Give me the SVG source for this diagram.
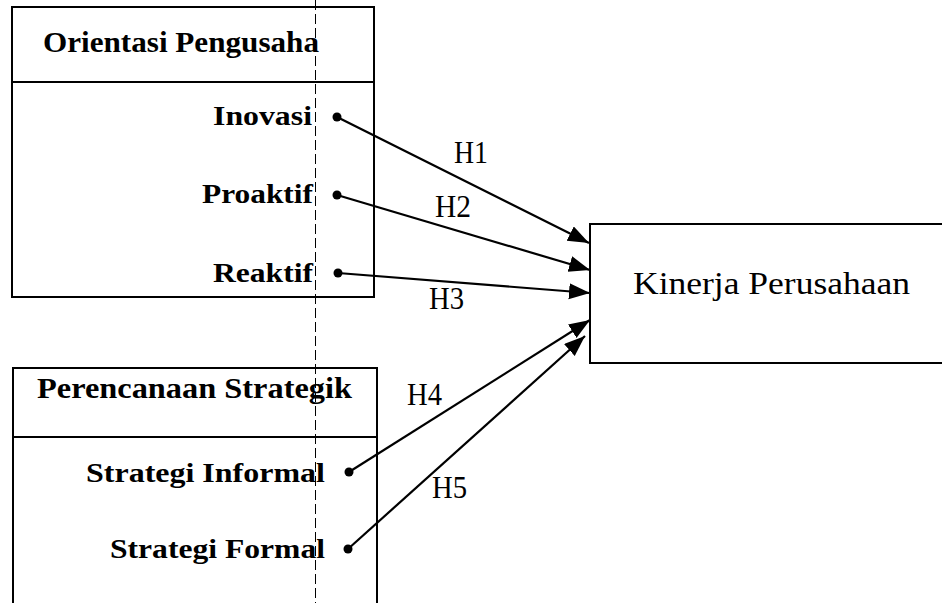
<svg xmlns="http://www.w3.org/2000/svg" width="942" height="603" viewBox="0 0 942 603">
<defs>
<style>
.box{fill:none;stroke:#000;stroke-width:2}
.b{font-family:"Liberation Serif","Times New Roman",serif;font-weight:bold;font-size:28px;fill:#000}
.h{font-family:"Liberation Serif","Times New Roman",serif;font-weight:bold;font-size:29px;fill:#000}
.r{font-family:"Liberation Serif","Times New Roman",serif;font-size:31px;fill:#000}
.c{stroke:#000;stroke-width:2.2;fill:none;marker-end:url(#ah)}
.dot{fill:#000}
</style>
<marker id="ah" markerUnits="userSpaceOnUse" markerWidth="24" markerHeight="20" refX="21" refY="8" orient="auto">
<path d="M0,0 L21,8 L0,16 z" fill="#000"/>
</marker>
</defs>
<rect width="942" height="603" fill="#fff"/>
<line x1="315.5" y1="0" x2="315.5" y2="603" stroke="#000" stroke-width="1" stroke-dasharray="10,4"/>
<g id="orientasi">
<rect class="box" x="12" y="7" width="362" height="290"/>
<line class="box" x1="12" y1="82" x2="374" y2="82"/>
<text class="h" x="43" y="52" textLength="276" lengthAdjust="spacingAndGlyphs">Orientasi Pengusaha</text>
<text class="b" x="213" y="125" textLength="99" lengthAdjust="spacingAndGlyphs">Inovasi</text>
<text class="b" x="202" y="203" textLength="111" lengthAdjust="spacingAndGlyphs">Proaktif</text>
<text class="b" x="213" y="282" textLength="100" lengthAdjust="spacingAndGlyphs">Reaktif</text>
<circle class="dot" cx="337" cy="117" r="4.5"/>
<circle class="dot" cx="337" cy="195" r="4.5"/>
<circle class="dot" cx="338" cy="273" r="4.5"/>
</g>
<g id="perencanaan">
<path class="box" d="M13,603 V368 H377 V603"/>
<line class="box" x1="13" y1="437" x2="377" y2="437"/>
<text class="h" x="37" y="398" textLength="315" lengthAdjust="spacingAndGlyphs">Perencanaan Strategik</text>
<text class="b" x="86" y="482" textLength="239" lengthAdjust="spacingAndGlyphs">Strategi Informal</text>
<text class="b" x="110" y="558" textLength="215" lengthAdjust="spacingAndGlyphs">Strategi Formal</text>
<circle class="dot" cx="349" cy="472" r="4.5"/>
<circle class="dot" cx="348" cy="549" r="4.5"/>
</g>
<g id="kinerja">
<path class="box" d="M945,224 H590 V363 H945"/>
<text class="r" x="633" y="294" textLength="277" lengthAdjust="spacingAndGlyphs">Kinerja Perusahaan</text>
</g>
<g id="connectors">
<line class="c" x1="337" y1="117" x2="589" y2="243"/>
<line class="c" x1="337" y1="195" x2="590" y2="270"/>
<line class="c" x1="338" y1="273" x2="590" y2="293"/>
<line class="c" x1="349" y1="472" x2="590" y2="320"/>
<line class="c" x1="348" y1="549" x2="585" y2="336"/>
<text class="r" x="454" y="163" textLength="34" lengthAdjust="spacingAndGlyphs">H1</text>
<text class="r" x="435" y="217" textLength="36" lengthAdjust="spacingAndGlyphs">H2</text>
<text class="r" x="429" y="309" textLength="35" lengthAdjust="spacingAndGlyphs">H3</text>
<text class="r" x="407" y="405" textLength="35" lengthAdjust="spacingAndGlyphs">H4</text>
<text class="r" x="432" y="498" textLength="35" lengthAdjust="spacingAndGlyphs">H5</text>
</g>
</svg>
